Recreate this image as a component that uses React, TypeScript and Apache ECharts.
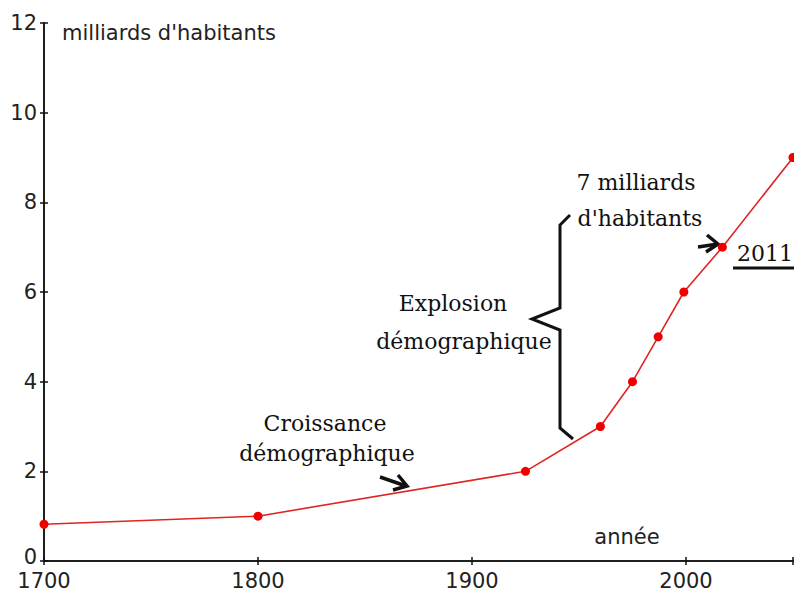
import React, { useEffect, useRef } from "react";
import * as echarts from "echarts";

const years = [1700, 1800, 1925, 1960, 1975, 1987, 1999, 2017, 2050];
const population = [0.82, 1, 2, 3, 4, 5, 6, 7, 9];
const yTicks = [0, 2, 4, 6, 8, 10, 12];
const xTicks = [1700, 1800, 1900, 2000];
const yAxisTitle = "milliards d'habitants";
const xAxisTitle = "année";

const SANS = "DejaVu Sans";
const SERIF = "DejaVu Serif";

const GRID_LEFT = 44;
const GRID_RIGHT = 1;
const GRID_TOP = 23;
const GRID_BOTTOM = 30;
const W = 794;
const H = 591;

export default function App() {
  const ref = useRef<HTMLDivElement>(null);
  useEffect(() => {
    if (!ref.current) return;
    const chart = echarts.init(ref.current, undefined, { renderer: "svg" });
    const axisLabelStyle = { fontFamily: SANS, fontSize: 21, color: "#222" };
    const tickStyle = { color: "#111", width: 1.5 };
    const gridW = W - GRID_LEFT - GRID_RIGHT;
    const gridH = H - GRID_TOP - GRID_BOTTOM;
    const serifText = (text: string, x: number, y: number, align = "center") => ({
      type: "text",
      x,
      y,
      style: {
        text,
        font: `22px '${SERIF}'`,
        fill: "#111",
        textAlign: align,
        textVerticalAlign: "middle",
      },
    });
    chart.setOption({
      animation: false,
      backgroundColor: "#ffffff",
      grid: { left: GRID_LEFT, right: GRID_RIGHT, top: GRID_TOP, bottom: GRID_BOTTOM, containLabel: false },
      xAxis: [
        {
          type: "value",
          min: 1700,
          max: 2050,
          interval: 100,
          position: "bottom",
          axisLine: { show: true, onZero: false, lineStyle: { color: "#111", width: 1.5 } },
          axisTick: { show: true, inside: false, length: 4, lineStyle: tickStyle },
          axisLabel: {
            ...axisLabelStyle,
            margin: 9,
            customValues: xTicks,
            formatter: (v: number) => String(v),
          },
          splitLine: { show: false },
        },
        {
          type: "value",
          min: 1700,
          max: 2050,
          interval: 100,
          position: "top",
          offset: -gridH,
          axisLine: { show: true, onZero: false, lineStyle: { color: "#111", width: 1.5 } },
          axisTick: { show: true, inside: false, length: 4, lineStyle: tickStyle },
          axisLabel: { show: false },
          splitLine: { show: false },
        },
      ],
      yAxis: [
        {
          type: "value",
          min: 0,
          max: 12,
          interval: 2,
          position: "left",
          axisLine: { show: true, onZero: false, lineStyle: { color: "#111", width: 1.5 } },
          axisTick: { show: true, inside: false, length: 4, lineStyle: tickStyle },
          axisLabel: {
            ...axisLabelStyle,
            margin: 7,
            customValues: yTicks,
            formatter: (v: number) => (v === 0 ? "{z|0}" : String(v)),
            rich: { z: { fontFamily: SANS, fontSize: 21, color: "#222", padding: [0, 0, 8, 0] } },
          },
          splitLine: { show: false },
        },
        {
          type: "value",
          min: 0,
          max: 12,
          interval: 2,
          position: "right",
          offset: -gridW,
          axisLine: { show: true, onZero: false, lineStyle: { color: "#111", width: 1.5 } },
          axisTick: { show: true, inside: false, length: 4, lineStyle: tickStyle },
          axisLabel: { show: false },
          splitLine: { show: false },
        },
      ],
      series: [
        {
          type: "line",
          xAxisIndex: 0,
          yAxisIndex: 0,
          data: years.map((y, i) => [y, population[i]]),
          symbol: "circle",
          symbolSize: 9,
          itemStyle: { color: "#ee0000" },
          lineStyle: { color: "#e02424", width: 1.6 },
          clip: false,
        },
        {
          type: "line",
          xAxisIndex: 1,
          yAxisIndex: 1,
          data: [[1700, 0]],
          showSymbol: false,
          lineStyle: { opacity: 0 },
          silent: true,
        },
      ],
      graphic: [
        {
          type: "text",
          x: 62,
          y: 33,
          style: { text: yAxisTitle, font: `21px '${SANS}'`, fill: "#222", textAlign: "left", textVerticalAlign: "middle" },
        },
        {
          type: "text",
          x: 627,
          y: 537,
          style: { text: xAxisTitle, font: `21px '${SANS}'`, fill: "#222", textAlign: "center", textVerticalAlign: "middle" },
        },
        serifText("Croissance", 325, 423),
        serifText("démographique", 327, 453),
        serifText("Explosion", 453, 303),
        serifText("démographique", 464, 341),
        serifText("7 milliards", 636, 182),
        serifText("d'habitants", 640, 218),
        serifText("2011", 737, 253, "left"),
        {
          type: "line",
          shape: { x1: 733, y1: 268, x2: 794, y2: 268 },
          style: { stroke: "#111", lineWidth: 3 },
        },
        {
          type: "polyline",
          shape: { points: [[570, 215], [560, 225], [560, 308], [532, 319], [560, 330], [560, 428], [573, 439]] },
          style: { stroke: "#111", lineWidth: 3, fill: null },
        },
        {
          type: "polyline",
          shape: { points: [[380, 477], [406, 486]] },
          style: { stroke: "#111", lineWidth: 3.5, fill: null },
        },
        {
          type: "polyline",
          shape: { points: [[398, 475], [407, 486], [393, 490]] },
          style: { stroke: "#111", lineWidth: 3.5, fill: null },
        },
        {
          type: "polyline",
          shape: { points: [[698, 247], [718, 244]] },
          style: { stroke: "#111", lineWidth: 3.5, fill: null },
        },
        {
          type: "polyline",
          shape: { points: [[707, 235], [718, 244], [706, 252]] },
          style: { stroke: "#111", lineWidth: 3.5, fill: null },
        },
      ],
    });
    return () => chart.dispose();
  }, []);
  return (
    <div
      ref={ref}
      style={{ position: "fixed", left: 0, top: 0, width: W, height: H, background: "#fff" }}
    />
  );
}
